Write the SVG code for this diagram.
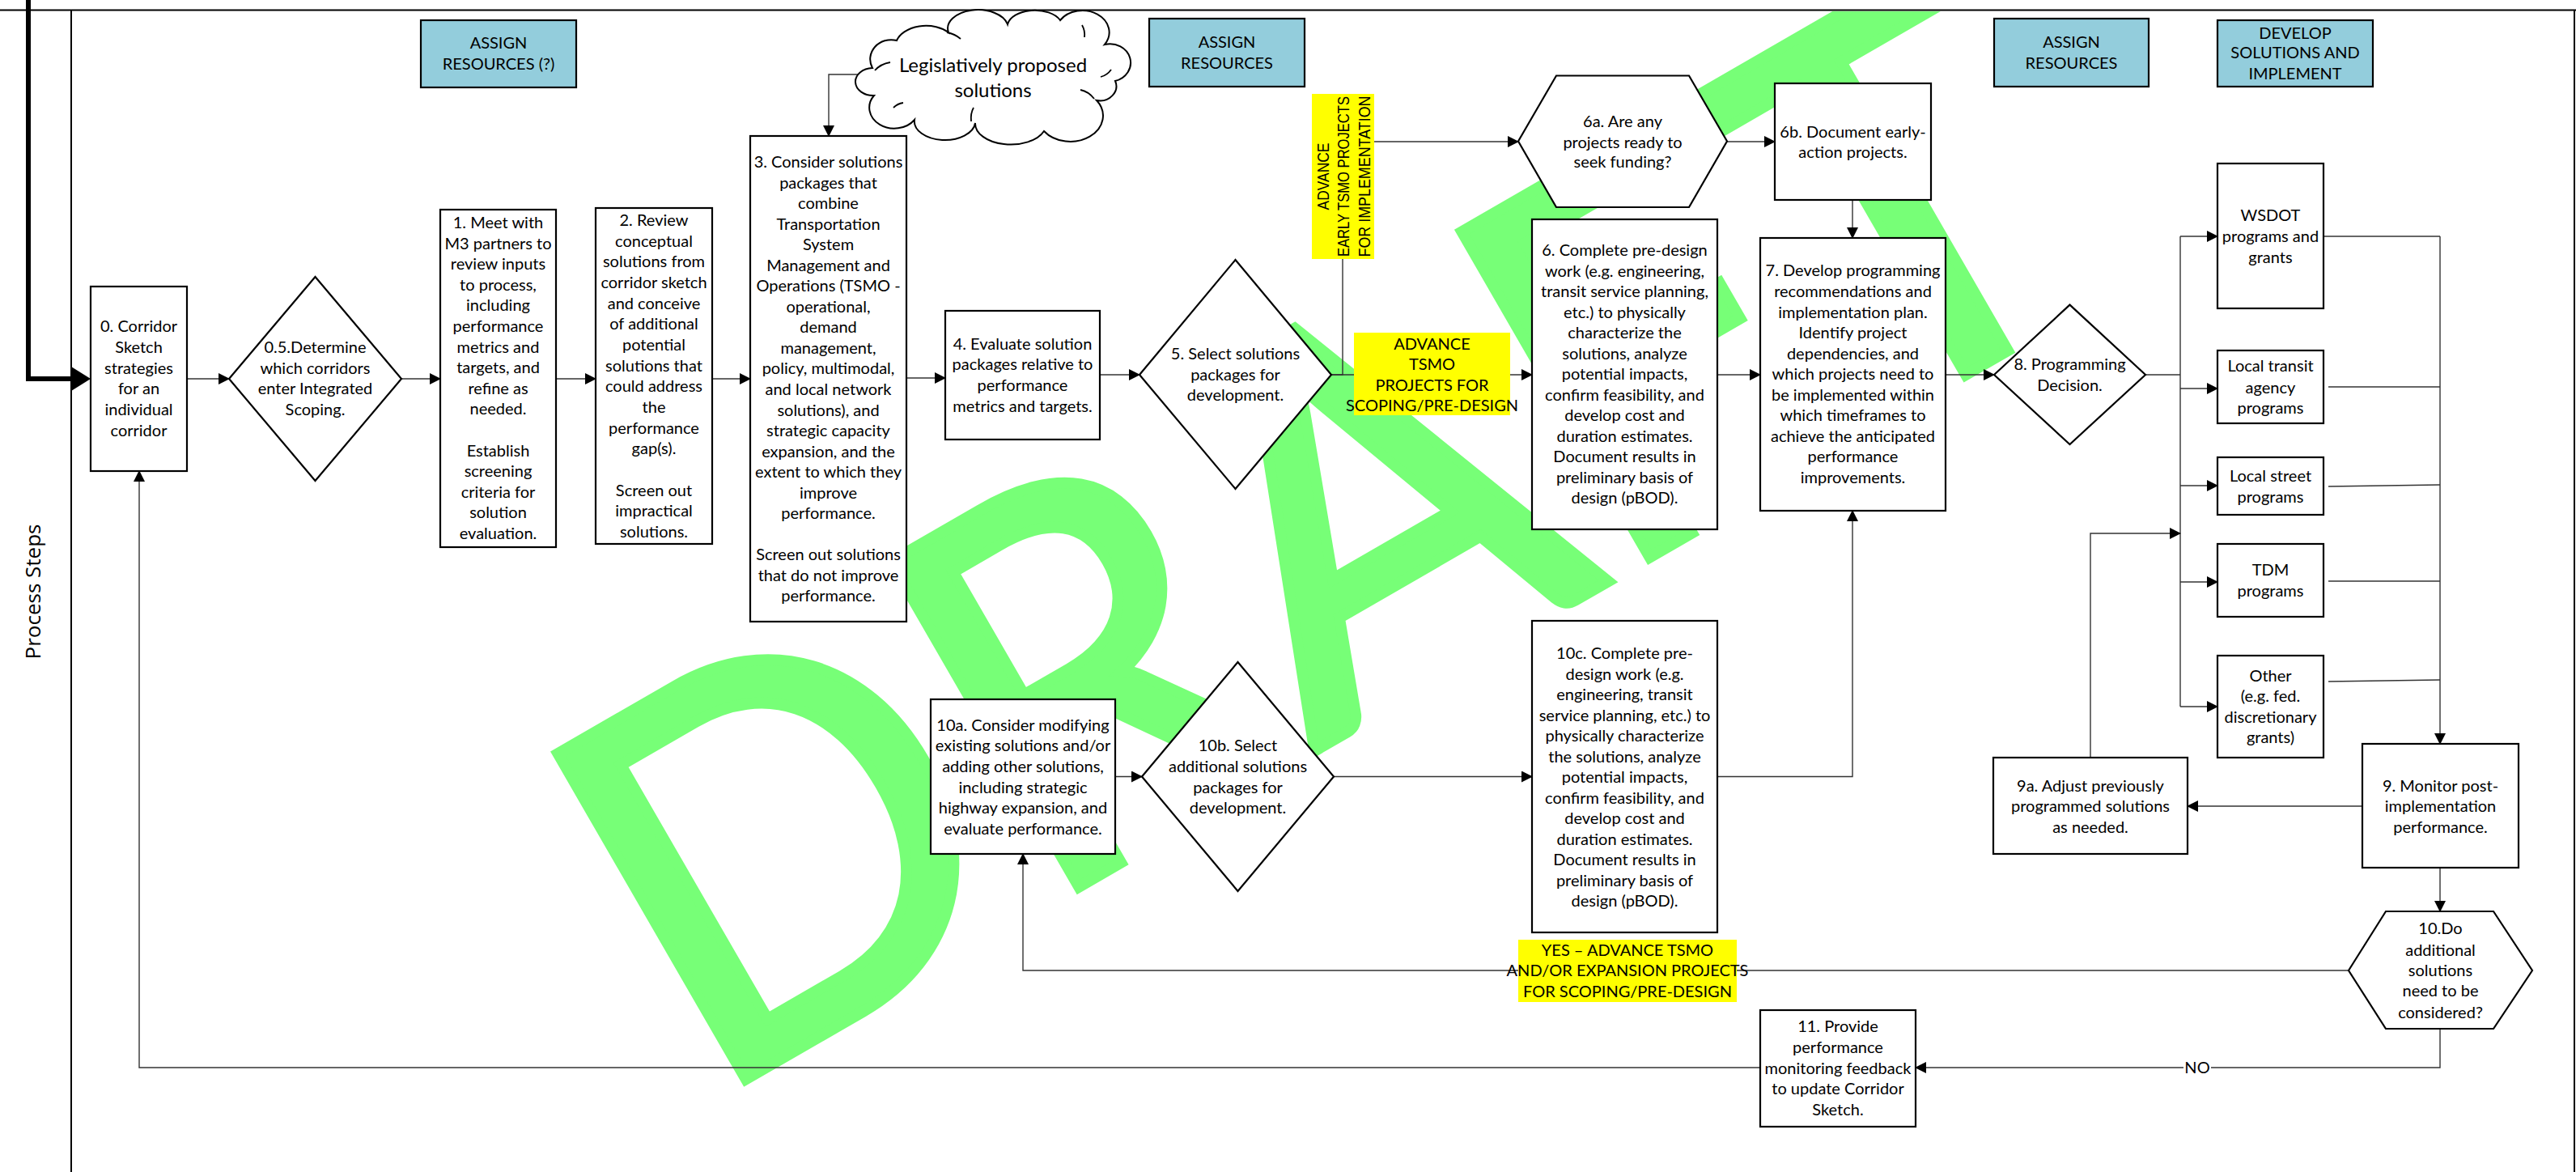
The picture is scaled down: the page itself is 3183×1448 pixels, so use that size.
<svg xmlns="http://www.w3.org/2000/svg" width="3183" height="1448" viewBox="0 0 3183 1448">
<style>
.box{fill:#fff;stroke:#000;stroke-width:2.2}
.lbl{fill:#93CDDC;stroke:#000;stroke-width:2.2}
.yel{fill:#FFFF00;stroke:none}
.t{font-family:Lato,"Liberation Sans",sans-serif;font-size:20px;text-anchor:middle;fill:#000}
.c{fill:none;stroke:#333;stroke-width:1.4}
.vt{font-family:"Liberation Sans",Arial,sans-serif;font-size:19.5px;text-anchor:middle;fill:#000}
</style>
<defs>
<marker id="ah" markerWidth="14" markerHeight="14" refX="13" refY="7" orient="auto" markerUnits="userSpaceOnUse"><path d="M0,0 L14,7 L0,14 z" fill="#000"/></marker>
<clipPath id="frame"><rect x="89" y="14" width="3091" height="1434"/></clipPath>
</defs>
<rect x="0" y="0" width="3183" height="1448" fill="#fff"/>
<g id="watermark" clip-path="url(#frame)">
<text transform="translate(872,1362) rotate(-30)" x="0" y="0" font-family="Lato,'Liberation Sans',sans-serif" font-size="648" fill="#77FF77" stroke="#77FF77" stroke-width="14" stroke-linejoin="miter" textLength="2012" lengthAdjust="spacingAndGlyphs">DRAFT</text>
</g>
<g id="frame-lines" fill="none" stroke="#000">
<path d="M0,12.5 H3183" stroke-width="2"/>
<path d="M88,12.5 V1448" stroke-width="2"/>
<path d="M3181,12.5 V1448" stroke-width="2"/>
</g>
<text id="lane" transform="translate(50,731) rotate(-90)" font-family="'Open Sans',sans-serif" font-size="26" text-anchor="middle" fill="#000">Process Steps</text>
<g id="connectors">
<path d="M35,0 V468 H90" fill="none" stroke="#000" stroke-width="6"/>
<polygon points="88,453 112,468 88,483" fill="#000"/>
<path class="c" d="M231,468 H283" marker-end="url(#ah)"/>
<path class="c" d="M496,468 H544" marker-end="url(#ah)"/>
<path class="c" d="M687,468 H736" marker-end="url(#ah)"/>
<path class="c" d="M880,468 H927" marker-end="url(#ah)"/>
<path class="c" d="M1073,92 H1024 V168" marker-end="url(#ah)"/>
<path class="c" d="M1120,467 H1168" marker-end="url(#ah)"/>
<path class="c" d="M1359,463 H1408" marker-end="url(#ah)"/>
<path class="c" d="M1645,463 H1893" marker-end="url(#ah)"/>
<path class="c" d="M1645,463 H1659 V175 H1876" marker-end="url(#ah)"/>
<path class="c" d="M2134,175 H2193" marker-end="url(#ah)"/>
<path class="c" d="M2289,247 V294" marker-end="url(#ah)"/>
<path class="c" d="M2122,463 H2175" marker-end="url(#ah)"/>
<path class="c" d="M2404,463 H2464" marker-end="url(#ah)"/>
<path class="c" d="M2651,463 H2694"/>
<path class="c" d="M2694,292 V873"/>
<path class="c" d="M2694,292 H2740" marker-end="url(#ah)"/>
<path class="c" d="M2694,480 H2740" marker-end="url(#ah)"/>
<path class="c" d="M2694,600 H2740" marker-end="url(#ah)"/>
<path class="c" d="M2694,719 H2740" marker-end="url(#ah)"/>
<path class="c" d="M2694,873 H2740" marker-end="url(#ah)"/>
<path class="c" d="M2871,292 H3015"/>
<path class="c" d="M2877,478 H3015"/>
<path class="c" d="M2877,601 L3015,599"/>
<path class="c" d="M2877,718 H3015"/>
<path class="c" d="M2877,842 L3015,840"/>
<path class="c" d="M3015,292 V919" marker-end="url(#ah)"/>
<path class="c" d="M2919,996 H2703" marker-end="url(#ah)"/>
<path class="c" d="M2583,936 V659 H2694" marker-end="url(#ah)"/>
<path class="c" d="M3015,1072 V1126" marker-end="url(#ah)"/>
<path class="c" d="M3015,1271 V1319 H2367" marker-end="url(#ah)"/>
<path class="c" d="M2175,1319 H172 V582" marker-end="url(#ah)"/>
<path class="c" d="M2902,1199 H1264 V1055" marker-end="url(#ah)"/>
<path class="c" d="M1378,959.5 H1411" marker-end="url(#ah)"/>
<path class="c" d="M1648,959.5 H1893" marker-end="url(#ah)"/>
<path class="c" d="M2122,959.5 H2289 V631" marker-end="url(#ah)"/>
<rect x="2698" y="1306" width="34" height="26" fill="#fff"/>
<text class="t" x="2715" y="1326">NO</text>
</g>
<g id="assign1"><rect class="lbl" x="520" y="25" width="192" height="83"/><text class="t"><tspan x="616" y="60.3">ASSIGN</tspan><tspan x="616" y="86">RESOURCES (?)</tspan></text></g>
<g id="assign2"><rect class="lbl" x="1420" y="23" width="192" height="84"/><text class="t"><tspan x="1516" y="59.3">ASSIGN</tspan><tspan x="1516" y="85">RESOURCES</tspan></text></g>
<g id="assign3"><rect class="lbl" x="2464" y="23" width="191" height="84"/><text class="t"><tspan x="2559.5" y="59">ASSIGN</tspan><tspan x="2559.5" y="85">RESOURCES</tspan></text></g>
<g id="develop"><rect class="lbl" x="2740" y="25" width="192" height="82"/><text class="t"><tspan x="2836" y="47.7">DEVELOP</tspan><tspan x="2836" y="72.4">SOLUTIONS AND</tspan><tspan x="2836" y="98">IMPLEMENT</tspan></text></g>
<g id="cloud"><path d="M1080,118 A22,17 0 0 1 1078,84 A26,24 0 0 1 1108,50 A38,26 0 0 1 1172,40 A36,22 0 0 1 1245,30 A34,20 0 0 1 1310,25 A32,26 0 0 1 1365,55 A22,20 0 0 1 1378,100 A20,18 0 0 1 1355,124 A38,30 0 0 1 1290,162 A44,26 0 0 1 1205,152 A36,22 0 0 1 1130,148 A24,20 0 0 1 1080,118 Z" fill="#fff" stroke="#000" stroke-width="2"/><g fill="none" stroke="#000" stroke-width="1.8"><path d="M1081,87 Q1088,79 1100,77"/><path d="M1170,40 Q1180,42 1187,48"/><path d="M1337,31 Q1341,38 1340,46"/><path d="M1373,86 Q1368,93 1360,95"/><path d="M1352,122 Q1345,113 1335,111"/><path d="M1200,150 Q1199,140 1203,133"/><path d="M1104,133 Q1109,128 1116,127"/></g><text class="t" style="font-size:24px"><tspan x="1227" y="88.5">Legislatively proposed</tspan><tspan x="1227" y="120">solutions</tspan></text></g>
<g id="n0"><rect class="box" x="112" y="354" width="119" height="228"/><text class="t"><tspan x="171.5" y="410">0. Corridor</tspan><tspan x="171.5" y="436">Sketch</tspan><tspan x="171.5" y="462">strategies</tspan><tspan x="171.5" y="487">for an</tspan><tspan x="171.5" y="513">individual</tspan><tspan x="171.5" y="539">corridor</tspan></text></g>
<g id="n05"><polygon class="box" points="283,468 389.5,342 496,468 389.5,594"/><text class="t"><tspan x="389.5" y="436">0.5.Determine</tspan><tspan x="389.5" y="462">which corridors</tspan><tspan x="389.5" y="487">enter Integrated</tspan><tspan x="389.5" y="513">Scoping.</tspan></text></g>
<g id="n1"><rect class="box" x="544" y="259" width="143" height="417"/><text class="t"><tspan x="615.5" y="282">1. Meet with</tspan><tspan x="615.5" y="307.6">M3 partners to</tspan><tspan x="615.5" y="333.2">review inputs</tspan><tspan x="615.5" y="358.8">to process,</tspan><tspan x="615.5" y="384.4">including</tspan><tspan x="615.5" y="410">performance</tspan><tspan x="615.5" y="435.6">metrics and</tspan><tspan x="615.5" y="461.2">targets, and</tspan><tspan x="615.5" y="486.8">refine as</tspan><tspan x="615.5" y="512.4">needed.</tspan><tspan x="615.5" y="563.6">Establish</tspan><tspan x="615.5" y="589.2">screening</tspan><tspan x="615.5" y="614.8">criteria for</tspan><tspan x="615.5" y="640.4">solution</tspan><tspan x="615.5" y="666">evaluation.</tspan></text></g>
<g id="n2"><rect class="box" x="736" y="257" width="144" height="415"/><text class="t"><tspan x="808" y="279">2. Review</tspan><tspan x="808" y="304.7">conceptual</tspan><tspan x="808" y="330.3">solutions from</tspan><tspan x="808" y="356">corridor sketch</tspan><tspan x="808" y="381.7">and conceive</tspan><tspan x="808" y="407.4">of additional</tspan><tspan x="808" y="433">potential</tspan><tspan x="808" y="458.7">solutions that</tspan><tspan x="808" y="484.4">could address</tspan><tspan x="808" y="510">the</tspan><tspan x="808" y="535.7">performance</tspan><tspan x="808" y="561.4">gap(s).</tspan><tspan x="808" y="612.7">Screen out</tspan><tspan x="808" y="638.4">impractical</tspan><tspan x="808" y="664">solutions.</tspan></text></g>
<g id="n3"><rect class="box" x="927" y="168" width="193" height="600"/><text class="t"><tspan x="1023.5" y="207">3. Consider solutions</tspan><tspan x="1023.5" y="232.5">packages that</tspan><tspan x="1023.5" y="258.1">combine</tspan><tspan x="1023.5" y="283.6">Transportation</tspan><tspan x="1023.5" y="309.2">System</tspan><tspan x="1023.5" y="334.7">Management and</tspan><tspan x="1023.5" y="360.2">Operations (TSMO -</tspan><tspan x="1023.5" y="385.8">operational,</tspan><tspan x="1023.5" y="411.3">demand</tspan><tspan x="1023.5" y="436.9">management,</tspan><tspan x="1023.5" y="462.4">policy, multimodal,</tspan><tspan x="1023.5" y="487.9">and local network</tspan><tspan x="1023.5" y="513.5">solutions), and</tspan><tspan x="1023.5" y="539">strategic capacity</tspan><tspan x="1023.5" y="564.6">expansion, and the</tspan><tspan x="1023.5" y="590.1">extent to which they</tspan><tspan x="1023.5" y="615.6">improve</tspan><tspan x="1023.5" y="641.2">performance.</tspan><tspan x="1023.5" y="692.3">Screen out solutions</tspan><tspan x="1023.5" y="717.8">that do not improve</tspan><tspan x="1023.5" y="743.3">performance.</tspan></text></g>
<g id="n4"><rect class="box" x="1168" y="384" width="191" height="159"/><text class="t"><tspan x="1263.5" y="431.6">4. Evaluate solution</tspan><tspan x="1263.5" y="457.3">packages relative to</tspan><tspan x="1263.5" y="483">performance</tspan><tspan x="1263.5" y="508.7">metrics and targets.</tspan></text></g>
<g id="n5"><polygon class="box" points="1408,463 1526.5,321 1645,463 1526.5,604"/><text class="t"><tspan x="1526.5" y="444">5. Select solutions</tspan><tspan x="1526.5" y="470">packages for</tspan><tspan x="1526.5" y="495">development.</tspan></text></g>
<g id="label-early"><rect class="yel" x="1621" y="116" width="77" height="204"/><text class="vt" transform="translate(1641.7,218) rotate(-90)" textLength="83" lengthAdjust="spacingAndGlyphs">ADVANCE</text><text class="vt" transform="translate(1666.7,218) rotate(-90)" textLength="198" lengthAdjust="spacingAndGlyphs">EARLY TSMO PROJECTS</text><text class="vt" transform="translate(1692.7,218) rotate(-90)" textLength="199" lengthAdjust="spacingAndGlyphs">FOR IMPLEMENTATION</text></g>
<g id="label-scoping"><rect class="yel" x="1673" y="411" width="193" height="102"/><text class="t"><tspan x="1769.5" y="431.6">ADVANCE</tspan><tspan x="1769.5" y="457">TSMO</tspan><tspan x="1769.5" y="482.5">PROJECTS FOR</tspan><tspan x="1769.5" y="507.7">SCOPING/PRE-DESIGN</tspan></text></g>
<g id="n6a"><polygon class="box" points="1876,174.5 1923,93.5 2087,93.5 2134,174.5 2087,256 1923,256"/><text class="t"><tspan x="2005" y="157">6a. Are any</tspan><tspan x="2005" y="182.5">projects ready to</tspan><tspan x="2005" y="207">seek funding?</tspan></text></g>
<g id="n6"><rect class="box" x="1893" y="271" width="229" height="383"/><text class="t"><tspan x="2007.5" y="316">6. Complete pre-design</tspan><tspan x="2007.5" y="341.5">work (e.g. engineering,</tspan><tspan x="2007.5" y="367">transit service planning,</tspan><tspan x="2007.5" y="392.5">etc.) to physically</tspan><tspan x="2007.5" y="418">characterize the</tspan><tspan x="2007.5" y="443.5">solutions, analyze</tspan><tspan x="2007.5" y="469">potential impacts,</tspan><tspan x="2007.5" y="494.5">confirm feasibility, and</tspan><tspan x="2007.5" y="520">develop cost and</tspan><tspan x="2007.5" y="545.5">duration estimates.</tspan><tspan x="2007.5" y="571">Document results in</tspan><tspan x="2007.5" y="596.5">preliminary basis of</tspan><tspan x="2007.5" y="622">design (pBOD).</tspan></text></g>
<g id="n6b"><rect class="box" x="2193" y="103" width="193" height="144"/><text class="t"><tspan x="2289.5" y="170">6b. Document early-</tspan><tspan x="2289.5" y="194.6">action projects.</tspan></text></g>
<g id="n7"><rect class="box" x="2175" y="294" width="229" height="337"/><text class="t"><tspan x="2289.5" y="341.4">7. Develop programming</tspan><tspan x="2289.5" y="367">recommendations and</tspan><tspan x="2289.5" y="392.5">implementation plan.</tspan><tspan x="2289.5" y="418.1">Identify project</tspan><tspan x="2289.5" y="443.6">dependencies, and</tspan><tspan x="2289.5" y="469.2">which projects need to</tspan><tspan x="2289.5" y="494.8">be implemented within</tspan><tspan x="2289.5" y="520.3">which timeframes to</tspan><tspan x="2289.5" y="545.9">achieve the anticipated</tspan><tspan x="2289.5" y="571.4">performance</tspan><tspan x="2289.5" y="597">improvements.</tspan></text></g>
<g id="n8"><polygon class="box" points="2464,463 2557.5,376.6 2651,463 2557.5,549"/><text class="t"><tspan x="2557.5" y="457">8. Programming</tspan><tspan x="2557.5" y="482.5">Decision.</tspan></text></g>
<g id="p-wsdot"><rect class="box" x="2740" y="202" width="131" height="179"/><text class="t"><tspan x="2805.5" y="273">WSDOT</tspan><tspan x="2805.5" y="299">programs and</tspan><tspan x="2805.5" y="325">grants</tspan></text></g>
<g id="p-transit"><rect class="box" x="2740" y="433" width="131" height="90"/><text class="t"><tspan x="2805.5" y="459">Local transit</tspan><tspan x="2805.5" y="486">agency</tspan><tspan x="2805.5" y="511">programs</tspan></text></g>
<g id="p-street"><rect class="box" x="2740" y="565" width="131" height="71"/><text class="t"><tspan x="2805.5" y="594.5">Local street</tspan><tspan x="2805.5" y="620.6">programs</tspan></text></g>
<g id="p-tdm"><rect class="box" x="2740" y="672" width="131" height="90"/><text class="t"><tspan x="2805.5" y="711">TDM</tspan><tspan x="2805.5" y="736.5">programs</tspan></text></g>
<g id="p-other"><rect class="box" x="2740" y="810" width="131" height="126"/><text class="t"><tspan x="2805.5" y="841.5">Other</tspan><tspan x="2805.5" y="867">(e.g. fed.</tspan><tspan x="2805.5" y="892.5">discretionary</tspan><tspan x="2805.5" y="918">grants)</tspan></text></g>
<g id="n9a"><rect class="box" x="2463" y="936" width="240" height="119"/><text class="t"><tspan x="2583" y="977.5">9a. Adjust previously</tspan><tspan x="2583" y="1002.7">programmed solutions</tspan><tspan x="2583" y="1028.5">as needed.</tspan></text></g>
<g id="n9"><rect class="box" x="2919" y="919" width="193" height="153"/><text class="t"><tspan x="3015.5" y="977.5">9. Monitor post-</tspan><tspan x="3015.5" y="1002.7">implementation</tspan><tspan x="3015.5" y="1028.5">performance.</tspan></text></g>
<g id="n10"><polygon class="box" points="2902,1199 2948,1126 3081,1126 3129,1199 3081,1271 2948,1271"/><text class="t"><tspan x="3015.5" y="1154.4">10.Do</tspan><tspan x="3015.5" y="1180.6">additional</tspan><tspan x="3015.5" y="1206">solutions</tspan><tspan x="3015.5" y="1231">need to be</tspan><tspan x="3015.5" y="1257.5">considered?</tspan></text></g>
<g id="n11"><rect class="box" x="2175" y="1248" width="192" height="144"/><text class="t"><tspan x="2271" y="1275">11. Provide</tspan><tspan x="2271" y="1301">performance</tspan><tspan x="2271" y="1326.6">monitoring feedback</tspan><tspan x="2271" y="1352">to update Corridor</tspan><tspan x="2271" y="1377.7">Sketch.</tspan></text></g>
<g id="n10a"><rect class="box" x="1150" y="864" width="228" height="191"/><text class="t"><tspan x="1264" y="902.6">10a. Consider modifying</tspan><tspan x="1264" y="928">existing solutions and/or</tspan><tspan x="1264" y="953.6">adding other solutions,</tspan><tspan x="1264" y="979.8">including strategic</tspan><tspan x="1264" y="1005">highway expansion, and</tspan><tspan x="1264" y="1031">evaluate performance.</tspan></text></g>
<g id="n10b"><polygon class="box" points="1411,959.5 1529.5,818 1648,959.5 1529.5,1101"/><text class="t"><tspan x="1529.5" y="928">10b. Select</tspan><tspan x="1529.5" y="953.6">additional solutions</tspan><tspan x="1529.5" y="979.8">packages for</tspan><tspan x="1529.5" y="1005">development.</tspan></text></g>
<g id="n10c"><rect class="box" x="1893" y="767" width="229" height="385"/><text class="t"><tspan x="2007.5" y="814">10c. Complete pre-</tspan><tspan x="2007.5" y="839.5">design work (e.g.</tspan><tspan x="2007.5" y="865">engineering, transit</tspan><tspan x="2007.5" y="890.5">service planning, etc.) to</tspan><tspan x="2007.5" y="916">physically characterize</tspan><tspan x="2007.5" y="941.5">the solutions, analyze</tspan><tspan x="2007.5" y="967">potential impacts,</tspan><tspan x="2007.5" y="992.5">confirm feasibility, and</tspan><tspan x="2007.5" y="1018">develop cost and</tspan><tspan x="2007.5" y="1043.5">duration estimates.</tspan><tspan x="2007.5" y="1069">Document results in</tspan><tspan x="2007.5" y="1094.5">preliminary basis of</tspan><tspan x="2007.5" y="1120">design (pBOD).</tspan></text></g>
<g id="label-yes"><rect class="yel" x="1876" y="1161" width="270" height="77"/><text class="t"><tspan x="2011" y="1181">YES – ADVANCE TSMO</tspan><tspan x="2011" y="1206">AND/OR EXPANSION PROJECTS</tspan><tspan x="2011" y="1232">FOR SCOPING/PRE-DESIGN</tspan></text></g>
</svg>
